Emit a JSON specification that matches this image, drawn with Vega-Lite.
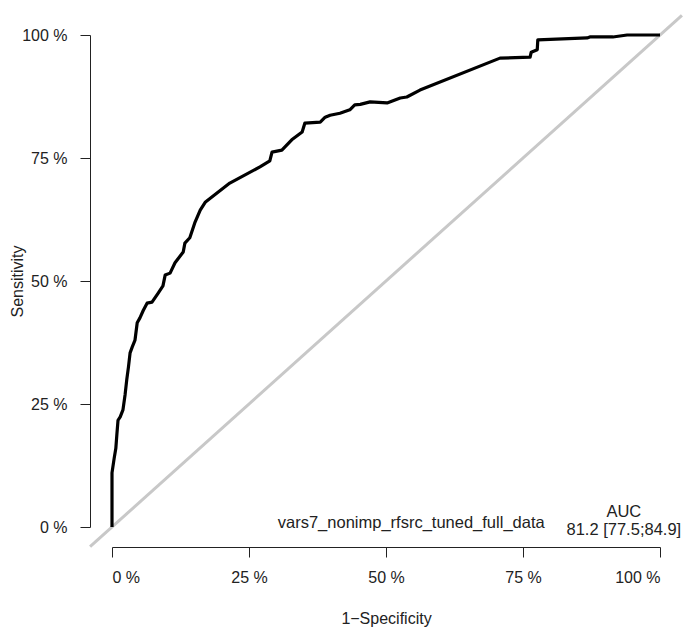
{
  "$schema": "https://vega.github.io/schema/vega-lite/v6.json",
  "width": 548,
  "height": 492,
  "autosize": {"type": "none"},
  "padding": {"left": 112, "top": 35, "right": 24, "bottom": 101},
  "background": "white",
  "config": {
    "view": {"stroke": null},
    "font": "Liberation Sans",
    "axis": {
      "grid": false,
      "domainColor": "#222222",
      "domainWidth": 1,
      "tickColor": "#222222",
      "tickWidth": 1,
      "tickSize": 10,
      "labelFont": "Liberation Sans",
      "labelFontSize": 16,
      "labelColor": "#222222",
      "titleFont": "Liberation Sans",
      "titleFontSize": 16,
      "titleFontWeight": "normal",
      "titleColor": "#222222"
    }
  },
  "datasets": {
    "roc": [
      {"i": 1, "fpr": 0, "tpr": 0},
      {"i": 2, "fpr": 0, "tpr": 11},
      {"i": 3, "fpr": 0.4, "tpr": 14},
      {"i": 4, "fpr": 0.7, "tpr": 16},
      {"i": 5, "fpr": 0.9, "tpr": 19},
      {"i": 6, "fpr": 1.1, "tpr": 21.7},
      {"i": 7, "fpr": 1.5, "tpr": 22.4},
      {"i": 8, "fpr": 2.0, "tpr": 23.8},
      {"i": 9, "fpr": 2.4, "tpr": 27},
      {"i": 10, "fpr": 2.7, "tpr": 30},
      {"i": 11, "fpr": 3.0, "tpr": 32.5},
      {"i": 12, "fpr": 3.3, "tpr": 35.4},
      {"i": 13, "fpr": 3.7, "tpr": 36.6},
      {"i": 14, "fpr": 4.2, "tpr": 38},
      {"i": 15, "fpr": 4.6, "tpr": 41.5},
      {"i": 16, "fpr": 5.1, "tpr": 42.5},
      {"i": 17, "fpr": 5.7, "tpr": 44},
      {"i": 18, "fpr": 6.4, "tpr": 45.5},
      {"i": 19, "fpr": 7.3, "tpr": 45.7},
      {"i": 20, "fpr": 8.4, "tpr": 47.5},
      {"i": 21, "fpr": 9.3, "tpr": 49},
      {"i": 22, "fpr": 9.7, "tpr": 51.2},
      {"i": 23, "fpr": 10.6, "tpr": 51.6},
      {"i": 24, "fpr": 11.5, "tpr": 53.7},
      {"i": 25, "fpr": 13.0, "tpr": 55.9},
      {"i": 26, "fpr": 13.3, "tpr": 57.7},
      {"i": 27, "fpr": 14.2, "tpr": 58.8},
      {"i": 28, "fpr": 15.1, "tpr": 61.8},
      {"i": 29, "fpr": 16.1, "tpr": 64.4},
      {"i": 30, "fpr": 17.0, "tpr": 66},
      {"i": 31, "fpr": 21.5, "tpr": 69.9},
      {"i": 32, "fpr": 27.0, "tpr": 73.2},
      {"i": 33, "fpr": 28.8, "tpr": 74.4},
      {"i": 34, "fpr": 29.2, "tpr": 76.2},
      {"i": 35, "fpr": 31.0, "tpr": 76.6},
      {"i": 36, "fpr": 32.8, "tpr": 78.7},
      {"i": 37, "fpr": 34.7, "tpr": 80.3},
      {"i": 38, "fpr": 35.2, "tpr": 82.1},
      {"i": 39, "fpr": 38.0, "tpr": 82.3},
      {"i": 40, "fpr": 38.9, "tpr": 83.3},
      {"i": 41, "fpr": 39.8, "tpr": 83.7},
      {"i": 42, "fpr": 41.6, "tpr": 84.1},
      {"i": 43, "fpr": 43.4, "tpr": 84.8},
      {"i": 44, "fpr": 44.3, "tpr": 85.8},
      {"i": 45, "fpr": 45.3, "tpr": 85.9},
      {"i": 46, "fpr": 47.1, "tpr": 86.4},
      {"i": 47, "fpr": 50.2, "tpr": 86.2},
      {"i": 48, "fpr": 52.6, "tpr": 87.2},
      {"i": 49, "fpr": 53.8, "tpr": 87.4},
      {"i": 50, "fpr": 56.2, "tpr": 88.8},
      {"i": 51, "fpr": 70.8, "tpr": 95.3},
      {"i": 52, "fpr": 76.3, "tpr": 95.5},
      {"i": 53, "fpr": 76.5, "tpr": 96.5},
      {"i": 54, "fpr": 77.6, "tpr": 97},
      {"i": 55, "fpr": 77.7, "tpr": 99},
      {"i": 56, "fpr": 86.7, "tpr": 99.4},
      {"i": 57, "fpr": 87.2, "tpr": 99.6},
      {"i": 58, "fpr": 91.4, "tpr": 99.6},
      {"i": 59, "fpr": 94.0, "tpr": 100},
      {"i": 60, "fpr": 100, "tpr": 100}
    ],
    "chance": [
      {"i": 1, "fpr": -4, "tpr": -4},
      {"i": 2, "fpr": 104, "tpr": 104}
    ],
    "notes": [
      {"fpr": 54.6, "tpr": 0.9, "label": "vars7_nonimp_rfsrc_tuned_full_data"},
      {"fpr": 93.4, "tpr": 3.1, "label": "AUC"},
      {"fpr": 93.4, "tpr": -0.6, "label": "81.2 [77.5;84.9]"}
    ]
  },
  "encoding": {
    "x": {
      "field": "fpr",
      "type": "quantitative",
      "scale": {"domain": [0, 100], "nice": false, "zero": false},
      "axis": {
        "title": "1\u2212Specificity",
        "values": [0, 25, 50, 75, 100],
        "labelExpr": "datum.value + ' %'",
        "offset": 20,
        "labelPadding": 12,
        "titlePadding": 25
      }
    },
    "y": {
      "field": "tpr",
      "type": "quantitative",
      "scale": {"domain": [0, 100], "nice": false, "zero": false},
      "axis": {
        "title": "Sensitivity",
        "values": [0, 25, 50, 75, 100],
        "labelExpr": "datum.value + ' %'",
        "offset": 22,
        "labelPadding": 13,
        "titlePadding": -4
      }
    }
  },
  "layer": [
    {
      "data": {"name": "chance"},
      "mark": {"type": "line", "color": "#c8c8c8", "strokeWidth": 3, "clip": false},
      "encoding": {"order": {"field": "i", "type": "quantitative"}}
    },
    {
      "data": {"name": "roc"},
      "mark": {"type": "line", "color": "#000000", "strokeWidth": 3.2, "strokeJoin": "round"},
      "encoding": {"order": {"field": "i", "type": "quantitative"}}
    },
    {
      "data": {"name": "notes"},
      "mark": {"type": "text", "font": "Liberation Sans", "fontSize": 16.5, "color": "#222222", "align": "center", "baseline": "middle"},
      "encoding": {"text": {"field": "label"}}
    }
  ]
}
